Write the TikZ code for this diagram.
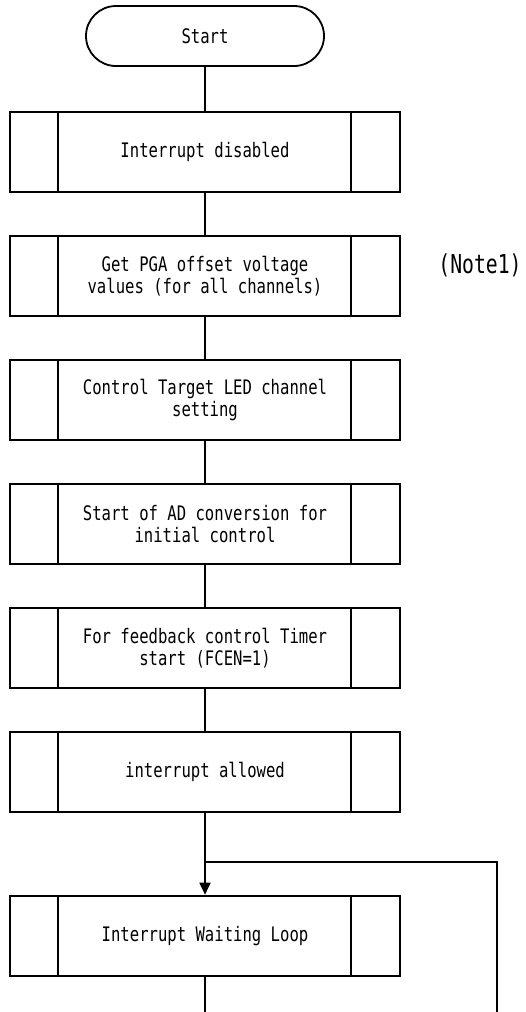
\documentclass[tikz,border=0pt]{standalone}
\usepackage{fontspec}
\usepackage{xcolor}
\usetikzlibrary{shapes,arrows,arrows.meta,positioning,calc}
\newfontfamily\gothfont[FakeStretch=0.78]{DejaVu Sans Mono}
\newfontfamily\notefont[FakeStretch=0.76]{DejaVu Sans Mono}
\definecolor{lineblack}{RGB}{0,0,0}
\tikzset{
    % Flowchart shape styles
    terminal/.style={
        rectangle, draw=lineblack, line width=1.8pt,
        minimum width=238pt, minimum height=60pt,
        rounded corners=30pt, font=\gothfont\fontsize{20}{22}\selectfont
    },
    subproc/.style={
        rectangle, draw=lineblack, line width=1.8pt,
        minimum width=390pt, minimum height=80pt,
        align=center, font=\gothfont\fontsize{20}{22}\selectfont,
        path picture={
            \draw[line width=1.8pt] ([xshift=48pt]path picture bounding box.north west) -- ([xshift=48pt]path picture bounding box.south west);
            \draw[line width=1.8pt] ([xshift=-49pt]path picture bounding box.north east) -- ([xshift=-49pt]path picture bounding box.south east);
        }
    },
    flow/.style={draw=lineblack, line width=1.8pt},
    note/.style={font=\notefont\fontsize{26}{30}\selectfont}
}

\begin{document}
\begin{tikzpicture}[x=1pt, y=1pt, node distance=42.2pt]

\useasboundingbox (0,0) rectangle (525,-1012);

% Start terminal
\node[terminal] (start) at (205,-36) {Start};

% Processing steps
\node[subproc, below=44pt of start] (disable) {Interrupt disabled};
\node[subproc, below=of disable] (pga) {Get PGA offset voltage\\values (for all channels)};
\node[subproc, below=of pga] (ledset) {Control Target LED channel\\setting};
\node[subproc, below=of ledset] (adstart) {Start of AD conversion for\\initial control};
\node[subproc, below=of adstart] (timer) {For feedback control Timer\\start (FCEN=1)};
\node[subproc, below=of timer] (allow) {interrupt allowed};
\node[subproc, below=82pt of allow] (wait) {Interrupt Waiting Loop};

% Note beside the PGA step
\node[note] (note1) at (480,-265) {(Note1)};

% Connectors
\draw[flow] (start) -- (disable);
\draw[flow] (disable) -- (pga);
\draw[flow] (pga) -- (ledset);
\draw[flow] (ledset) -- (adstart);
\draw[flow] (adstart) -- (timer);
\draw[flow] (timer) -- (allow);
\draw[flow, -{Triangle[width=11pt,length=12pt]}] (allow) -- (wait);

% Loop back
\coordinate[below=49pt of allow.south] (join);
\coordinate (bottom) at (205,-1012);
\coordinate (loopend) at (497,-1012);
\draw[flow] (wait) -- (bottom);
\draw[flow] (loopend) |- (join);

\end{tikzpicture}
\end{document}
